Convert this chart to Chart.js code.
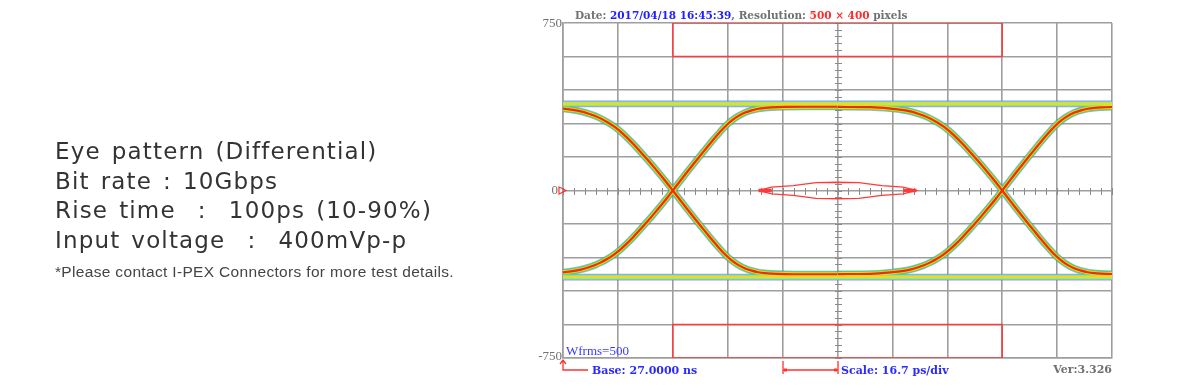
<!DOCTYPE html>
<html lang="en">
<head>
  <meta charset="UTF-8" />
  <title>Eye pattern (Differential)</title>
  <script src="https://cdn.jsdelivr.net/npm/chart.js"></script>
  <style>
    body {
      margin: 0;
      background: #fff;
      width: 1200px;
      height: 392px;
      overflow: hidden;
      position: relative;
    }
    canvas {
      position: absolute;
      left: 0;
      top: 0;
    }
    .note {
      position: absolute;
      left: 55px;
      white-space: pre;
      color: #333;
      font-family: "DejaVu Sans", sans-serif;
      font-size: 23px;
      letter-spacing: 1.15px;
      word-spacing: 2.6px;
      line-height: 29.5px;
    }
    .small {
      font-family: "Liberation Sans", Arial, sans-serif;
      font-size: 15.5px;
      letter-spacing: 0.33px;
      word-spacing: 0;
      line-height: 18px;
      color: #444;
    }
  </style>
</head>
<body>
  <canvas id="eye" width="1200" height="392"></canvas>
  <div class="note" style="top:137.3px">Eye pattern (Differential)</div>
  <div class="note" style="top:166.8px">Bit rate : 10Gbps</div>
  <div class="note" style="top:196.3px">Rise time  :  100ps (10-90%)</div>
  <div class="note" style="top:225.8px">Input voltage  :  400mVp-p</div>
  <div class="note small" style="top:262.5px">*Please contact I-PEX Connectors for more test details.</div>

  <script>
    // axis ranges: time in ps, amplitude in mV
    const timeMin = 0, timeMax = 167, psPerDiv = 16.7;
    const mvMin = -750, mvMax = 750, mvPerDiv = 150;
    const yLabels = [750, 0, -750];

    // crossing points of the eye
    const crossTimes = [33.4, 133.6];

    // one rising edge, relative to its crossing point
    const edgeDt = [-50, -40, -34, -30, -28, -26, -24, -22, -20, -18, -16, -14, -12, -10, -8, -6, -4, -2,
                    0, 2, 4, 6, 8, 10, 12, 14, 16, 18, 20, 22, 24, 26, 28, 30, 34, 40, 50];
    const edgeMv = [-374, -373, -367, -360, -354, -346, -336, -323, -307, -288, -265, -238, -208, -176, -143, -109, -74, -38,
                    0, 38, 76, 113, 150, 186, 222, 256, 288, 314, 334, 349, 359, 366, 370, 372, 374, 375, 375];

    // steady high / low levels
    const railMv = [388, -388];

    // eye mask
    const maskTopT = [33.4, 33.4, 133.6, 133.6, 33.4];
    const maskTopMv = [750, 600, 600, 750, 750];
    const maskBotT = [33.4, 33.4, 133.6, 133.6, 33.4];
    const maskBotMv = [-750, -600, -600, -750, -750];
    const maskHexT = [59.5, 63.5, 70, 77, 83.5, 90, 97, 103.5, 107.5, 103.5, 97, 90, 83.5, 77, 70, 63.5, 59.5];
    const maskHexMv = [0, 15, 22, 35, 37, 35, 22, 15, 0, -15, -22, -35, -37, -35, -22, -15, 0];
    const hexTipLeftT = [59.5, 63.5];
    const hexTipRightT = [103.5, 107.5];

    const edgeLayers = [
      { color: 'rgba(90,110,255,0.6)', width: 7.2, order: 5 },
      { color: '#46df4c', width: 5.8, order: 4 },
      { color: '#ffd400', width: 3.9, order: 3 },
      { color: '#ee2a1a', width: 2.2, order: 2 }
    ];
    const railLayers = [
      { color: 'rgba(170,90,255,0.75)', width: 6.6, order: 5 },
      { color: '#4ee6c4', width: 5.2, order: 4 },
      { color: '#b8f03a', width: 3.4, order: 3 },
      { color: '#ffd21f', width: 1.8, order: 2 }
    ];

    const datasets = [];

    function addTrace(points, layers) {
      layers.forEach(l => {
        datasets.push({
          data: points,
          borderColor: l.color,
          borderWidth: l.width,
          order: l.order,
          pointRadius: 0,
          fill: false,
          cubicInterpolationMode: 'monotone',
          clip: 0
        });
      });
    }

    function addMask(ts, mvs, width) {
      datasets.push({
        data: ts.map((t, i) => ({ x: t, y: mvs[i] })),
        borderColor: '#ff3a3a',
        borderWidth: width,
        order: 0,
        pointRadius: 0,
        fill: false,
        tension: 0
      });
    }

    railMv.forEach(v => {
      addTrace([{ x: timeMin, y: v }, { x: timeMax, y: v }], railLayers);
    });

    crossTimes.forEach(c => {
      const rising = edgeDt.map((d, i) => ({ x: c + d, y: edgeMv[i] }));
      const falling = edgeDt.map((d, i) => ({ x: c + d, y: -edgeMv[i] }));
      addTrace(rising, edgeLayers);
      addTrace(falling, edgeLayers);
    });

    addMask(maskTopT, maskTopMv, 1.5);
    addMask(maskBotT, maskBotMv, 1.5);
    addMask(maskHexT, maskHexMv, 1.3);
    addMask(hexTipLeftT, [0, 0], 3.5);
    addMask(hexTipRightT, [0, 0], 3.5);

    function drawRuns(ctx, x, y, runs) {
      runs.forEach(([text, color]) => {
        ctx.fillStyle = color;
        ctx.fillText(text, x, y);
        x += ctx.measureText(text).width;
      });
    }

    const scopeDecor = {
      id: 'scopeDecor',
      beforeDatasetsDraw(chart) {
        const { ctx, scales: { x, y } } = chart;
        const cx = Math.round(x.getPixelForValue((timeMin + timeMax) / 2));
        const cy = Math.round(y.getPixelForValue(0));
        ctx.save();
        ctx.strokeStyle = '#8a8a8a';
        ctx.lineWidth = 1;
        ctx.beginPath();
        for (let i = 0; i <= 50; i++) {
          const px = Math.round(x.getPixelForValue(timeMin + i * psPerDiv / 5)) + 0.5;
          ctx.moveTo(px, cy - 3);
          ctx.lineTo(px, cy + 4);
        }
        for (let i = 0; i <= 50; i++) {
          const py = Math.round(y.getPixelForValue(mvMin + i * mvPerDiv / 5)) + 0.5;
          ctx.moveTo(cx - 3, py);
          ctx.lineTo(cx + 4, py);
        }
        ctx.stroke();
        ctx.restore();
      },
      afterDraw(chart) {
        const { ctx, chartArea: area, scales: { x, y } } = chart;
        ctx.save();

        // header
        ctx.font = 'bold 10.5px "DejaVu Serif", serif';
        ctx.textBaseline = 'alphabetic';
        drawRuns(ctx, 575, 19, [
          ['Date: ', '#707070'],
          ['2017/04/18 16:45:39', '#2020ff'],
          [', Resolution: ', '#707070'],
          ['500 × 400', '#ff2a2a'],
          [' pixels', '#707070']
        ]);

        // y labels
        ctx.font = '13px "Liberation Serif", serif';
        ctx.fillStyle = '#707070';
        ctx.textAlign = 'right';
        ctx.textBaseline = 'middle';
        yLabels.forEach(v => {
          let py = y.getPixelForValue(v);
          if (v === mvMax) py += 1;
          if (v === mvMin) py -= 1;
          ctx.fillText(String(v), v === 0 ? area.left - 5 : area.left - 1, py);
        });

        // zero level marker
        const zy = y.getPixelForValue(0);
        ctx.strokeStyle = '#ff3030';
        ctx.lineWidth = 1.2;
        ctx.beginPath();
        ctx.moveTo(area.left - 4, zy - 3.5);
        ctx.lineTo(area.left + 3, zy);
        ctx.lineTo(area.left - 4, zy + 3.5);
        ctx.closePath();
        ctx.stroke();

        // waveform count
        ctx.textAlign = 'left';
        ctx.textBaseline = 'alphabetic';
        ctx.font = '13px "Liberation Serif", serif';
        ctx.fillStyle = '#3838ff';
        ctx.fillText('Wfrms=500', area.left + 3, area.bottom - 3);

        // base arrow
        const bx = area.left, by = area.bottom + 12;
        ctx.strokeStyle = '#ff3030';
        ctx.lineWidth = 1.3;
        ctx.beginPath();
        ctx.moveTo(bx, area.bottom + 2);
        ctx.lineTo(bx, by);
        ctx.lineTo(bx + 25, by);
        ctx.moveTo(bx - 3, area.bottom + 6);
        ctx.lineTo(bx, area.bottom + 2);
        ctx.lineTo(bx + 3, area.bottom + 6);
        ctx.stroke();

        ctx.font = 'bold 11px "DejaVu Serif", serif';
        ctx.fillStyle = '#2a2aff';
        ctx.fillText('Base: 27.0000 ns', 592, by + 4);

        // scale bracket: one division
        const s1 = Math.round(x.getPixelForValue(4 * psPerDiv));
        const s2 = Math.round(x.getPixelForValue(5 * psPerDiv));
        ctx.beginPath();
        ctx.moveTo(s1, area.bottom + 3);
        ctx.lineTo(s1, area.bottom + 16);
        ctx.moveTo(s2, area.bottom + 3);
        ctx.lineTo(s2, area.bottom + 16);
        ctx.moveTo(s1, by);
        ctx.lineTo(s2, by);
        ctx.stroke();
        ctx.fillStyle = '#ff3030';
        ctx.fillRect(s1 + 1, by - 1.5, 3, 3);
        ctx.fillRect(s2 - 4, by - 1.5, 3, 3);

        ctx.fillStyle = '#2a2aff';
        ctx.fillText('Scale: 16.7 ps/div', s2 + 3, by + 4);

        ctx.fillStyle = '#707070';
        ctx.textAlign = 'right';
        ctx.fillText('Ver:3.326', area.right, by + 3);

        ctx.restore();
      }
    };

    new Chart(document.getElementById('eye').getContext('2d'), {
      type: 'line',
      data: { datasets },
      options: {
        responsive: false,
        animation: false,
        events: [],
        layout: { padding: { left: 563, right: 88, top: 23, bottom: 34 } },
        scales: {
          x: {
            type: 'linear',
            min: timeMin,
            max: timeMax,
            ticks: { display: false, stepSize: psPerDiv },
            grid: { color: '#9e9e9e', lineWidth: 1.6, drawTicks: false },
            border: { color: '#9e9e9e', width: 1.6 }
          },
          y: {
            min: mvMin,
            max: mvMax,
            ticks: { display: false, stepSize: mvPerDiv },
            grid: { color: '#9e9e9e', lineWidth: 1.6, drawTicks: false },
            border: { color: '#9e9e9e', width: 1.6 }
          }
        },
        plugins: {
          legend: { display: false },
          tooltip: { enabled: false }
        }
      },
      plugins: [scopeDecor]
    });
  </script>
</body>
</html>
